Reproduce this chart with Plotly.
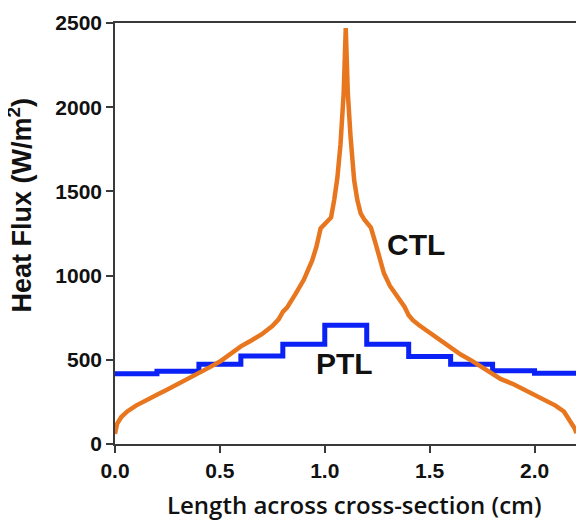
import plotly.graph_objects as go

# ---- data ----
ctl_x = [0.00, 0.01, 0.03, 0.06, 0.10, 0.15, 0.20, 0.25, 0.30, 0.35, 0.40, 0.45, 0.50,
         0.55, 0.60, 0.65, 0.70, 0.75, 0.78, 0.80, 0.82, 0.86, 0.90, 0.94, 0.96, 0.98,
         1.00, 1.03, 1.045, 1.06, 1.075, 1.09, 1.10,
         1.11, 1.123, 1.135, 1.14, 1.155, 1.171, 1.19, 1.22, 1.242, 1.26, 1.282, 1.31,
         1.346, 1.38, 1.40, 1.42, 1.45, 1.50, 1.55, 1.60, 1.65, 1.70, 1.75, 1.80, 1.84,
         1.90, 1.95, 2.00, 2.05, 2.10, 2.14, 2.17, 2.19, 2.20]
ctl_y = [60, 120, 160, 195, 228, 263, 293, 323, 355, 385, 420, 455, 490,
         535, 580, 615, 652, 700, 740, 785, 810, 890, 975, 1090, 1170, 1280,
         1305, 1345, 1450, 1580, 1780, 2080, 2470,
         2080, 1824, 1630, 1567, 1450, 1370, 1330, 1285, 1192, 1100, 1014, 940,
         875, 815, 765, 735, 705, 660, 615, 569, 530, 495, 455, 420, 385,
         355, 325, 293, 262, 228, 193, 140, 95, 65]

ptl_x = [0.0, 0.2, 0.4, 0.6, 0.8, 1.0, 1.2, 1.4, 1.6, 1.8, 2.0, 2.2]
ptl_y = [417, 432, 473, 523, 592, 705, 592, 520, 474, 435, 420, 420]

x_ticks = [0.0, 0.5, 1.0, 1.5, 2.0]
x_ticklabels = ["0.0", "0.5", "1.0", "1.5", "2.0"]
y_ticks = [0, 500, 1000, 1500, 2000, 2500]

labels = ["CTL", "PTL"]
label_x = [1.433, 1.092]
label_y = [1182, 476]

ORANGE = "#E8761E"
BLUE = "#0A22F5"
AXIS = "#3a3a3a"
FONT = "Liberation Sans, Arial, sans-serif"

fig = go.Figure()
fig.add_trace(go.Scatter(x=ptl_x, y=ptl_y, mode="lines", line_shape="hv",
                         line=dict(color=BLUE, width=5), name="PTL"))
fig.add_trace(go.Scatter(x=ctl_x, y=ctl_y, mode="lines",
                         line=dict(color=ORANGE, width=4.5), name="CTL"))

for t, lx, ly in zip(labels, label_x, label_y):
    fig.add_annotation(x=lx, y=ly, xref="x", yref="y", text=t, showarrow=False,
                       xanchor="center", yanchor="middle",
                       font=dict(family=FONT, size=30, color="#111111", weight="bold"))

fig.add_annotation(x=-0.203, y=0.569, xref="paper", yref="paper",
                   xanchor="center", yanchor="middle",
                   text="Heat Flux (W/m<sup>2</sup>)", textangle=-90, showarrow=False,
                   font=dict(family=FONT, size=27, color="#111111", weight="bold"))
fig.add_annotation(x=0.512, y=-0.144, xref="paper", yref="paper",
                   xanchor="center", yanchor="middle",
                   text="Length across cross-section (cm)", showarrow=False,
                   font=dict(family="Open Sans, sans-serif", size=24, color="#111111", weight=600))

axis_common = dict(showline=True, linecolor=AXIS, linewidth=1.5, mirror=True,
                   ticks="outside", ticklen=7, tickwidth=1.5, tickcolor=AXIS,
                   showgrid=False, zeroline=False, automargin=False,
                   tickfont=dict(family=FONT, size=21, color="#111111", weight="bold"))

fig.update_xaxes(range=[0, 2.231], tickvals=x_ticks, ticktext=x_ticklabels, **axis_common)
fig.update_yaxes(range=[0, 2500], tickvals=y_ticks, **axis_common)

# page body has an 8px margin, so the figure is offset by (8, 8)
fig.update_layout(width=576, height=515, showlegend=False,
                  margin=dict(l=107, r=1, t=15, b=79),
                  plot_bgcolor="white", paper_bgcolor="white")

fig.write_html("out.html")
